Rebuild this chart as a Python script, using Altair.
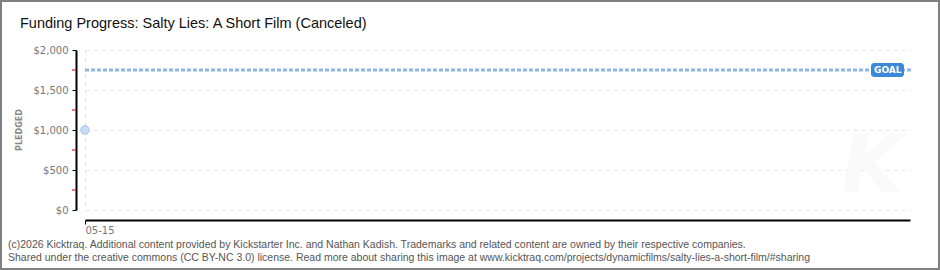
import altair as alt
import pandas as pd

# Data
dates = ["05-15"]
day_index = [0]
pledged = [1000]
goal = 1750
x_max = 30
y_ticks = [0, 500, 1000, 1500, 2000]
y_minor = [250, 750, 1250, 1750]
title_text = "Funding Progress: Salty Lies: A Short Film (Canceled)"
footer1 = "(c)2026 Kicktraq. Additional content provided by Kickstarter Inc. and Nathan Kadish. Trademarks and related content are owned by their respective companies."
footer2 = "Shared under the creative commons (CC BY-NC 3.0) license. Read more about sharing this image at www.kicktraq.com/projects/dynamicfilms/salty-lies-a-short-film/#sharing"

df = pd.DataFrame({"day": day_index, "date": dates, "pledged": pledged})
goal_df = pd.DataFrame({"d0": [0], "d1": [x_max], "goal": [goal], "label": ["GOAL"]})
minor_df = pd.DataFrame({"v": y_minor})
one = pd.DataFrame({"a": [0]})

W, H = 825, 160
FONT = "DejaVu Sans"

xscale = alt.Scale(domain=[0, x_max], nice=False, zero=False)
yscale = alt.Scale(domain=[0, 2000], nice=False)

x_axis = alt.Axis(values=day_index, labelExpr="'05-15'", offset=10, domainColor="#000",
                  domainWidth=2, tickColor="#000", tickSize=4, labelColor="#777",
                  labelFont=FONT, labelFontSize=10, labelPadding=1, title=None,
                  grid=True, gridColor="#dfe5ef", gridDash=[4, 4])
y_axis = alt.Axis(values=y_ticks, format="$,d", offset=9, domainColor="#000", domainWidth=2,
                  tickColor="#000", tickSize=4, labelColor="#777", labelFont=FONT,
                  labelFontSize=10, labelPadding=4, title=None, grid=True,
                  gridColor="#e4e4e4", gridDash=[4, 4], orient="left")

base = alt.Chart(df)

points = base.mark_point(filled=True, size=70, fill="#c9ddf6", stroke="#9cc0ea",
                         strokeWidth=1, opacity=1).encode(
    x=alt.X("day:Q", scale=xscale, axis=x_axis),
    y=alt.Y("pledged:Q", scale=yscale, axis=y_axis),
)

minor = alt.Chart(minor_df).mark_rule(color="#e00000", strokeWidth=1).encode(
    y=alt.Y("v:Q", scale=yscale, axis=y_axis),
    x=alt.value(-13), x2=alt.value(-9),
)

goal_line = alt.Chart(goal_df).mark_rule(color="#8fb5e3", strokeWidth=3,
                                         strokeDash=[4, 2]).encode(
    x=alt.X("d0:Q", scale=xscale, axis=x_axis), x2=alt.value(W + 1),
    y=alt.Y("goal:Q", scale=yscale, axis=y_axis),
)

goal_box = alt.Chart(goal_df).mark_rect(color="#3d88d9", cornerRadius=3).encode(
    x=alt.value(786), x2=alt.value(819),
    y=alt.value(13), y2=alt.value(27),
)

goal_text = alt.Chart(goal_df).mark_text(color="white", font=FONT, fontSize=9,
                                         fontWeight="bold", align="left",
                                         baseline="middle").encode(
    x=alt.value(789), y=alt.Y("goal:Q", scale=yscale, axis=y_axis), text="label:N",
)

watermark = alt.Chart(one).mark_text(text="K", font="DejaVu Sans", fontSize=80,
                                     fontStyle="italic", fontWeight="bold", color="#fafafa",
                                     align="center", baseline="middle").encode(
    x=alt.value(787), y=alt.value(118))

title = alt.Chart(one).mark_text(text=title_text, font="Liberation Sans",
                                 fontSize=14.5, color="#111", align="left",
                                 baseline="alphabetic").encode(
    x=alt.value(-65), y=alt.value(-22))

pledged_title = alt.Chart(one).mark_text(text="PLEDGED", font=FONT, fontSize=8,
                                         fontWeight="bold", color="#888", angle=270,
                                         align="center", baseline="middle").encode(
    x=alt.value(-65), y=alt.value(80))

foot1 = alt.Chart(one).mark_text(text=footer1, font="Liberation Sans", fontSize=10.5,
                                 color="#555", align="left", baseline="alphabetic").encode(
    x=alt.value(-77), y=alt.value(198))
foot2 = alt.Chart(one).mark_text(text=footer2, font="Liberation Sans", fontSize=10.5,
                                 color="#555", align="left", baseline="alphabetic").encode(
    x=alt.value(-77), y=alt.value(211))

border = alt.Chart(one).mark_rect(fill=None, stroke="#808080", strokeWidth=2).encode(
    x=alt.value(-84), x2=alt.value(854), y=alt.value(-49), y2=alt.value(219))

chart = alt.layer(
    watermark, goal_line, points, minor, goal_box, goal_text, title,
    pledged_title, foot1, foot2, border
).properties(
    width=W, height=H,
    autosize=alt.AutoSizeParams(type="none"),
    padding={"left": 85, "top": 50, "right": 30, "bottom": 60},
    background="white",
).configure_view(stroke=None)

chart.save("out.html", embed_options={"renderer": "svg", "actions": False})
